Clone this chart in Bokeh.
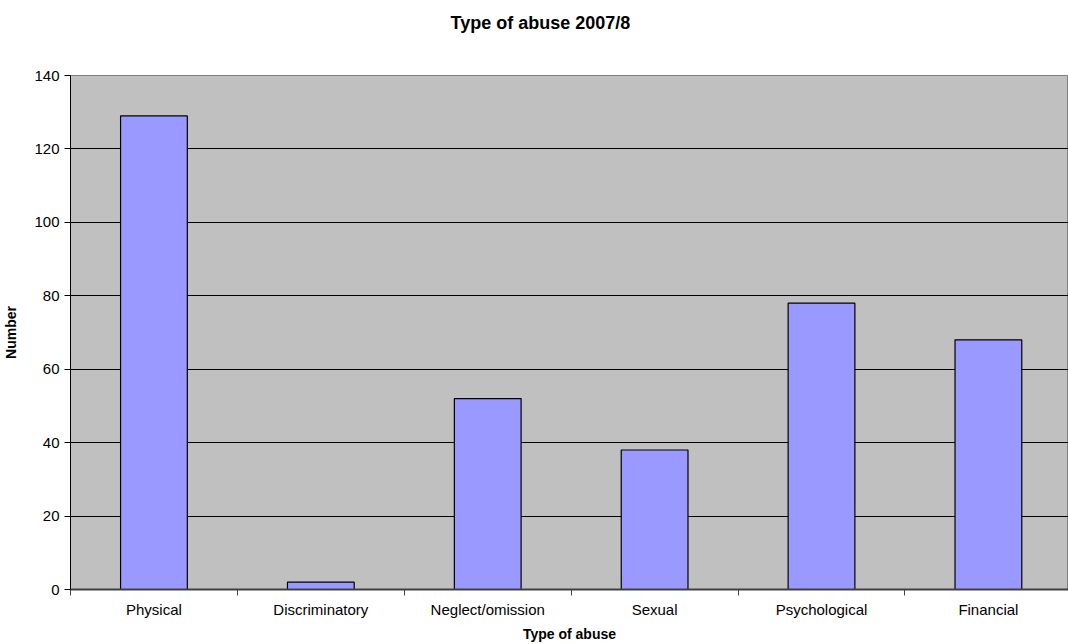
from bokeh.plotting import figure
from bokeh.models import FixedTicker, Range1d, Title, ColumnDataSource
from bokeh.embed import file_html
from bokeh.resources import INLINE

categories = ["Physical", "Discriminatory", "Neglect/omission", "Sexual", "Psychological", "Financial"]
values = [129, 2, 52, 38, 78, 68]
y_ticks = [0, 20, 40, 60, 80, 100, 120, 140]

xpos = [i + 0.5 for i in range(len(categories))]
src = ColumnDataSource(dict(x=xpos, top=values, cat=categories))

FONT = "Liberation Sans"

p = figure(width=1068, height=644, output_backend="svg", toolbar_location=None,
           x_range=Range1d(0, 5.98), y_range=Range1d(0, 140),
           min_border_left=70, min_border_right=0, min_border_top=75, min_border_bottom=55,
           background_fill_color="#C0C0C0", border_fill_color="white")
p.title = None

spacer = Title(text=" ", standoff=16, text_font=FONT, text_font_size="18px")
p.add_layout(spacer, "above")

t = Title(text="Type of abuse 2007/8", align="left", offset=380, standoff=10,
          text_font=FONT, text_font_size="18px", text_font_style="bold", text_color="black")
p.add_layout(t, "above")

p.vbar(x="x", top="top", width=0.4, bottom=0, source=src,
       fill_color="#9999FF", line_color="black", line_width=1.2)

p.outline_line_color = "#808080"
p.outline_line_width = 1

# grid
p.xgrid.visible = False
p.ygrid.grid_line_color = "black"
p.ygrid.grid_line_width = 1
p.ygrid.ticker = FixedTicker(ticks=y_ticks)

# y axis
p.yaxis.ticker = FixedTicker(ticks=y_ticks)
p.yaxis.axis_label = "Number"
p.yaxis.axis_label_text_font = FONT
p.yaxis.axis_label_text_font_size = "14px"
p.yaxis.axis_label_text_font_style = "bold"
p.yaxis.axis_label_text_color = "black"
p.yaxis.axis_label_standoff = 12
p.yaxis.major_label_text_font = FONT
p.yaxis.major_label_text_font_size = "15px"
p.yaxis.major_label_text_color = "black"
p.yaxis.major_tick_out = 6
p.yaxis.major_tick_in = 0
p.yaxis.minor_tick_line_color = None
p.yaxis.axis_line_color = "black"
p.yaxis.major_tick_line_color = "black"
p.yaxis.major_label_standoff = 5

# x axis
p.xaxis.ticker = FixedTicker(ticks=xpos, minor_ticks=list(range(0, 7)))
p.xaxis.major_label_overrides = {x: c for x, c in zip(xpos, categories)}
p.xaxis.axis_label = "Type of abuse"
p.xaxis.axis_label_text_font = FONT
p.xaxis.axis_label_text_font_size = "14px"
p.xaxis.axis_label_text_font_style = "bold"
p.xaxis.axis_label_text_color = "black"
p.xaxis.axis_label_standoff = 5
p.xaxis.major_label_text_font = FONT
p.xaxis.major_label_text_font_size = "15px"
p.xaxis.major_label_text_color = "black"
p.xaxis.major_tick_line_color = None
p.xaxis.major_tick_out = 0
p.xaxis.minor_tick_out = 6
p.xaxis.minor_tick_in = 0
p.xaxis.minor_tick_line_color = "#404040"
p.xaxis.axis_line_color = "#404040"
p.xaxis.axis_line_width = 2
p.xaxis.major_label_standoff = 5

open("out.html", "w").write(file_html(p, INLINE))
